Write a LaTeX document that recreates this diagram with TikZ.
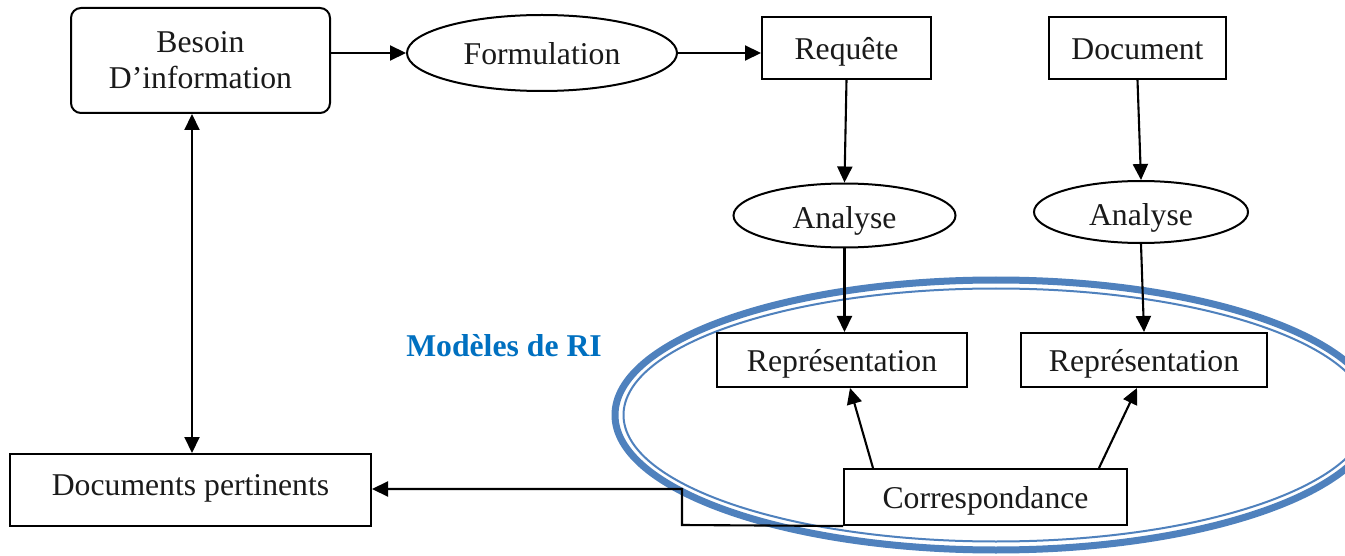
\documentclass[tikz,border=0pt]{standalone}
\usepackage{fontspec}
\setmainfont{Liberation Serif}
\usetikzlibrary{arrows.meta,shapes.geometric}
\definecolor{ellblue}{HTML}{4F81BD}
\definecolor{titleblue}{HTML}{0070C0}
\definecolor{inkc}{HTML}{1A1A1A}
\begin{document}
\begin{tikzpicture}[x=1pt,y=-1pt,
  every node/.style={font=\fontsize{31.7}{36}\selectfont, inner sep=0pt, text=inkc},
  box/.style={draw, line width=2pt, fill=white, rectangle},
  ellnode/.style={draw, line width=2pt, fill=white, ellipse},
  base/.style={text height=24pt, text depth=1pt},
  lowbase/.style={text height=28pt, text depth=1pt},
  conn/.style={line width=2.1pt, -{Triangle[length=16pt,width=15pt]}},
  dconn/.style={line width=2.1pt, {Triangle[length=16pt,width=15pt]}-{Triangle[length=16pt,width=15pt]}},
]
\useasboundingbox (0,0) rectangle (1345,556);
\clip (0,0) rectangle (1345,556);
\fill[white] (0,0) rectangle (1345,556);
% big double ellipse
\draw[ellblue, line width=7pt] (996,415) ellipse [x radius=381, y radius=135];
\draw[ellblue, line width=2pt] (996,415) ellipse [x radius=372.5, y radius=126.5];
% nodes
\node[box, rounded corners=10pt, minimum width=259pt, minimum height=105pt, align=center] (besoin) at (200.5,60.5) {Besoin\\D’information};
\node[ellnode, base, minimum width=270pt, minimum height=76pt] (form) at (542,53) {Formulation};
\node[box, base, minimum width=169pt, minimum height=62pt] (req) at (846.5,48) {Requête};
\node[box, base, minimum width=177pt, minimum height=62pt] (doc) at (1137.5,48) {Document};
\node[ellnode, lowbase, minimum width=222pt, minimum height=64pt] (anaL) at (844.5,215.5) {Analyse};
\node[ellnode, lowbase, minimum width=214pt, minimum height=62pt] (anaR) at (1141,212) {Analyse};
\node[box, base, minimum width=250pt, minimum height=54pt] (repL) at (842,360) {Représentation};
\node[box, base, minimum width=246pt, minimum height=54pt] (repR) at (1144,360) {Représentation};
\node[box, base, minimum width=283pt, minimum height=56pt] (corr) at (985.5,497) {Correspondance};
\node[box, text height=11pt, text depth=1pt, minimum width=361pt, minimum height=72pt] (docp) at (190.5,490) {Documents pertinents};
\node[font=\bfseries\fontsize{31.7}{36}\selectfont, text=titleblue] (modeles) at (504,346) {Modèles de RI};
% connectors
\draw[conn] (besoin.east |- form.west) -- (form.west);
\draw[conn] (form.east) -- (req.west |- form.east);
\draw[conn] (req.south) -- (anaL.north);
\draw[conn] (doc.south) -- (anaR.north);
\draw[conn] (anaL.south) -- (anaL.south |- repL.north);
\draw[conn] (anaR.south) -- (repR.north);
\draw[conn] ([xshift=-112.5pt]corr.north) -- ([xshift=8pt]repL.south);
\draw[conn] ([xshift=113.5pt]corr.north) -- ([xshift=-7pt]repR.south);
\coordinate (bendA) at (682,525);
\coordinate (bendB) at (682,489);
\draw[conn] (corr.south west) -- (bendA) -- (bendB) -- (bendB -| docp.east);
\draw[dconn] ([xshift=-8.5pt]besoin.south) -- ([xshift=1.5pt]docp.north);
\end{tikzpicture}
\end{document}
